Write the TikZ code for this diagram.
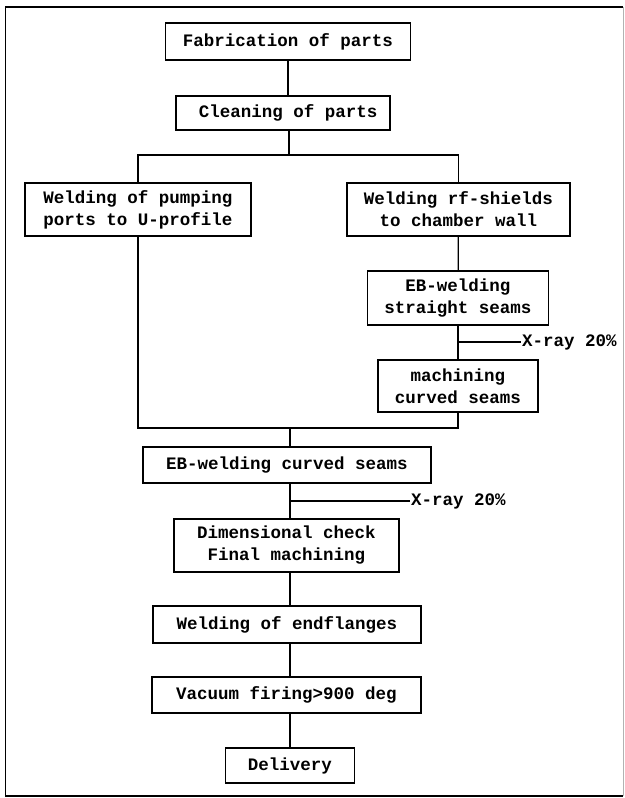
\documentclass[tikz,border=0pt]{standalone}
\usepackage{fontspec}
\newfontfamily\flowfont{Liberation Mono}
\usepackage{tikz}
\usetikzlibrary{positioning,calc}

\begin{document}
\begin{tikzpicture}[
  x=1pt, y=-1pt,
  stepbox/.style={draw, line width=1.3pt, align=center, inner sep=2pt,
    font=\flowfont\bfseries\fontsize{17.5}{22}\selectfont},
  note/.style={inner sep=1pt, anchor=west,
    font=\flowfont\bfseries\fontsize{17.5}{22}\selectfont},
  link/.style={line width=1.2pt},
  frame/.style={line width=1.6pt}
]
\useasboundingbox (0,0) rectangle (624,798);
\draw[frame] (623,796) -- (5.5,796) -- (5.5,7) -- (623,7);
\draw[line width=1pt, gray!60] (623,7) -- (623,796);

% Upper part
\node[stepbox, minimum width=245, minimum height=37] (fab)   at (288,41.5) {Fabrication of parts};
\node[stepbox, minimum width=214, minimum height=34] (clean) at (283,113)  {~Cleaning of parts};
\node[stepbox, minimum width=226, minimum height=53] (pump)  at (138,209.5) {Welding of pumping\\ports to U-profile};
\node[stepbox, minimum width=223, minimum height=53] (shield) at (458.5,209.5) {Welding rf-shields\\to chamber wall};
\node[stepbox, minimum width=181, minimum height=54] (ebs)   at (458,298) {EB-welding\\straight seams};
\node[stepbox, minimum width=160, minimum height=52] (mach)  at (458,386) {machining\\curved seams};

% Lower part
\node[stepbox, minimum width=288, minimum height=36] (ebc)   at (287,465)   {EB-welding curved seams};
\node[stepbox, minimum width=225, minimum height=53] (dim)   at (286.5,545.5) {Dimensional check\\Final machining};
\node[stepbox, minimum width=268, minimum height=37] (endf)  at (287,624.5) {Welding of endflanges};
\node[stepbox, minimum width=269, minimum height=36] (vac)   at (286.5,695) {Vacuum firing>900 deg};
\node[stepbox, minimum width=129, minimum height=35] (deliv) at (290,765.5) {Delivery};

\node[note] (xray1) at (521,342) {X-ray 20\%};
\node[note] (xray2) at (410,501) {X-ray 20\%};

\coordinate (split) at (289,155);
\coordinate (join)  at (290,428);

% Connectors
\draw[link] (fab.south) -- (fab.south |- clean.north);
\draw[link] (split |- clean.south) -- (split);
\draw[link] (pump.north) |- (split) -| (shield.north);
\draw[link] (shield) -- (ebs);
\draw[link] (ebs) -- (mach);
\draw[link] (ebs |- xray1) -- (xray1.west);
\draw[link] (pump.south) |- (join) -| (mach.south);
\draw[link] (join) -- (join |- ebc.north);
\draw[link] (join |- ebc.south) -- (join |- dim.north);
\draw[link] (join |- xray2) -- (xray2.west);
\draw[link] (join |- dim.south) -- (join |- endf.north);
\draw[link] (join |- endf.south) -- (join |- vac.north);
\draw[link] (join |- vac.south) -- (join |- deliv.north);
\end{tikzpicture}
\end{document}
